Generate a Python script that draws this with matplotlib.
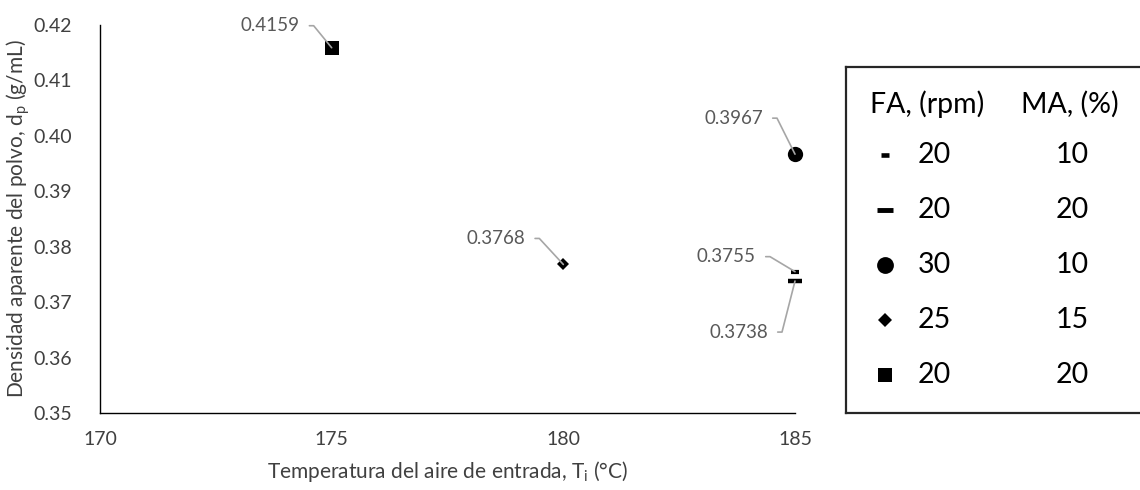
import matplotlib
matplotlib.use('Agg')
import matplotlib.pyplot as plt

plt.rcParams['font.family'] = ['Lato', 'DejaVu Sans']
plt.rcParams['mathtext.default'] = 'regular'

# data
temps = [185, 185, 185, 180, 175]
density = [0.3755, 0.3738, 0.3967, 0.3768, 0.4159]
fa_rpm = [20, 20, 30, 25, 20]
ma_pct = [10, 20, 10, 15, 20]

# marker style per point (marker, size, edge width)
styles = [('_', 5.5, 3.0), ('_', 10.5, 3.2), ('o', 11, 0), ('D', 6.5, 0), ('s', 9.5, 0)]
# label offsets in pixels (text right edge relative to the point)
label_offsets = [(-39, 15), (-27, -51), (-32, 36), (-38, 26), (-32, 22)]

TEXT_GREY = '#595959'
LINE_GREY = '#a6a6a6'

fig = plt.figure(figsize=(11.4, 4.9), dpi=100)
ax = fig.add_axes([100 / 1140, 77 / 490, 695 / 1140, 388 / 490])

for x, y, (m, ms, mew), (dx, dy) in zip(temps, density, styles, label_offsets):
    ax.plot(x, y, marker=m, ms=ms, mew=mew, color='black', mec='black', ls='none',
            zorder=3, clip_on=False)
    ax.annotate(f'{y:.4f}', xy=(x, y), xytext=(dx, dy), textcoords='offset pixels',
                ha='right', va='center', fontsize=13.5, color=TEXT_GREY,
                arrowprops=dict(arrowstyle='-', color=LINE_GREY, lw=1.2,
                                shrinkA=5, shrinkB=0, relpos=(1, 0.5),
                                connectionstyle='arc,angleA=0,armA=14,angleB=0,armB=0,rad=0'))

ax.set_xlim(170, 185)
ax.set_ylim(0.35, 0.42)
ax.set_xticks([170, 175, 180, 185])
ax.set_yticks([0.35, 0.36, 0.37, 0.38, 0.39, 0.40, 0.41, 0.42])
ax.set_yticklabels([f'{v:.2f}' for v in ax.get_yticks()])
ax.tick_params(length=0, labelsize=14, labelcolor='#404040')
ax.tick_params(axis='y', pad=20)
ax.tick_params(axis='x', pad=13)
for s in ['top', 'right']:
    ax.spines[s].set_visible(False)
for s in ['left', 'bottom']:
    ax.spines[s].set_color('black')
    ax.spines[s].set_linewidth(1.0)

ax.set_xlabel('Temperatura del aire de entrada, T$_\\mathregular{i}$ (°C)', fontsize=15,
              color='#404040', labelpad=8)
ax.set_ylabel('Densidad aparente del polvo, d$_\\mathregular{p}$ (g/mL)', fontsize=15,
              color='#404040')
ax.yaxis.set_label_coords(-0.098, 0.5)

# legend table drawn in its own framed axes (pixel-like coordinates)
lg = fig.add_axes([846 / 1140, 77 / 490, 320 / 1140, 346 / 490])
lg.set_xlim(846, 1166)
lg.set_ylim(413, 67)
lg.set_xticks([])
lg.set_yticks([])
for s in lg.spines.values():
    s.set_linewidth(1.6)
    s.set_color('#262626')

lg.text(927, 104, 'FA, (rpm)', ha='center', va='center', fontsize=20.5, color='black')
lg.text(1070, 104, 'MA, (%)', ha='center', va='center', fontsize=20.5, color='black')
for i, ((m, ms, mew), fa, ma) in enumerate(zip(styles, fa_rpm, ma_pct)):
    yy = 155 + 55 * i
    lg.plot(885, yy, marker=m, ms=ms * 1.1, mew=mew * 1.1, color='black', ls='none')
    lg.text(934, yy, str(fa), ha='center', va='center', fontsize=20.5, color='black')
    lg.text(1072, yy, str(ma), ha='center', va='center', fontsize=20.5, color='black')

fig.savefig('out.png', dpi=100, facecolor='white')
